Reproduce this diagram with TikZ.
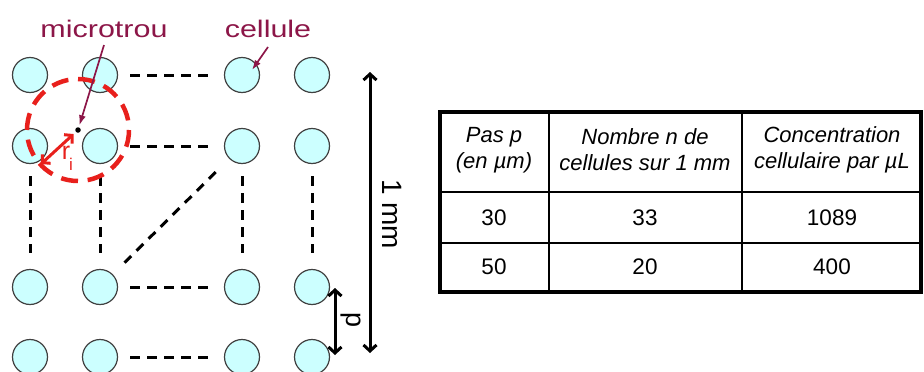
\documentclass[tikz,border=0pt]{standalone}
\usepackage{fontspec}
\setmainfont{Liberation Sans}
\usetikzlibrary{arrows.meta}
\definecolor{cellcyan}{RGB}{204,255,255}
\definecolor{labmaroon}{RGB}{140,22,72}
\definecolor{holered}{RGB}{232,32,28}
\begin{document}
\begin{tikzpicture}[x=1pt,y=-1pt,
  cell/.style={circle,draw=black!75,line width=1.2pt,fill=cellcyan,minimum size=35pt,inner sep=0pt},
  link/.style={line width=3pt,dash pattern=on 9.5pt off 7.5pt},
  ringstyle/.style={draw=holered,line width=4.5pt,dash pattern=on 17pt off 9.7pt},
  dim/.style={line width=3pt,{Straight Barb[length=6pt,width=13pt]}-{Straight Barb[length=6pt,width=13pt]}},
  lab/.style={text=labmaroon,font=\fontsize{24}{28}\selectfont,xscale=1.27},
  pointer/.style={draw=labmaroon,line width=1.7pt,-{Latex[length=10pt,width=7pt]}},
  hdr/.style={align=center,font=\fontsize{22}{26}\selectfont\itshape},
  num/.style={font=\fontsize{22.5}{26}\selectfont}]
\useasboundingbox (0,0) rectangle (924,372);

% cells
\foreach \c/\x in {1/30,2/100,3/242,4/312}
  \foreach \r/\y in {1/75,2/146,3/287,4/357}
    \node[cell] (c\r\c) at (\x,\y) {};

% dashed links
\foreach \r in {1,2,3,4}
  \draw[link,shorten <=12pt,shorten >=16pt] (c\r2) -- (c\r3);
\foreach \c in {1,2,3,4}
  \draw[link,shorten <=12pt,shorten >=16pt] (c2\c) -- (c3\c);
\draw[link,shorten <=19pt,shorten >=13pt] (c23) -- (c32);

% microtrou ring
\node[circle,fill=black,inner sep=0pt,minimum size=5.5pt] (hole) at (78,130) {};
\draw[ringstyle] (hole.center) circle[radius=51];
\coordinate (riend) at (41,164);
\draw[holered,line width=3pt,{Straight Barb[length=5.5pt,width=12pt]}-{Straight Barb[length=5.5pt,width=12pt]},shorten <=3pt] (hole) -- (riend);
\node[text=holered,font=\fontsize{25}{28}\selectfont,inner sep=0pt] (ri) at (66,153) {r};
\node[text=holered,font=\fontsize{17}{20}\selectfont,inner sep=0pt] (rsub) at (71,164) {i};

% labels
\node[lab] (mt) at (104,29) {microtrou};
\coordinate (mtfoot) at (104,45);
\draw[pointer,shorten >=2pt] (mtfoot) -- (hole);
\node[lab] (ce) at (268,29) {cellule};
\coordinate (cefoot) at (268,47);
\coordinate (ceend) at (252,70);
\draw[pointer] (cefoot) -- (ceend);

% dimensions
\coordinate (mmtop) at (370,72);
\coordinate (mmbot) at (370,353);
\draw[dim] (mmtop) -- (mmbot);
\node[rotate=-90,font=\fontsize{28}{32}\selectfont] (mm) at (392,214) {1 mm};
\coordinate (ptop) at (335,288);
\coordinate (pbot) at (335,355);
\draw[dim] (ptop) -- (pbot);
\node[rotate=-90,font=\fontsize{27}{30}\selectfont] (plab) at (351,320) {p};

% table
\draw[line width=1.4pt] (549,112) -- (549,292) (742,112) -- (742,292)
  (440,192) -- (921,192) (440,243) -- (921,243);
\draw[line width=3.2pt] (440,112) rectangle (921,292);
\node[hdr] (h1) at (494,150) {Pas p\\(en µm)};
\node[hdr] (h2) at (645,150) {Nombre n de\\cellules sur 1 mm};
\node[hdr] (h3) at (832,150) {Concentration\\cellulaire par µL};
\node[num] (a1) at (494,218) {30};
\node[num] (a2) at (645,218) {33};
\node[num] (a3) at (832,218) {1089};
\node[num] (b1) at (494,267) {50};
\node[num] (b2) at (645,267) {20};
\node[num] (b3) at (832,267) {400};
\end{tikzpicture}
\end{document}
